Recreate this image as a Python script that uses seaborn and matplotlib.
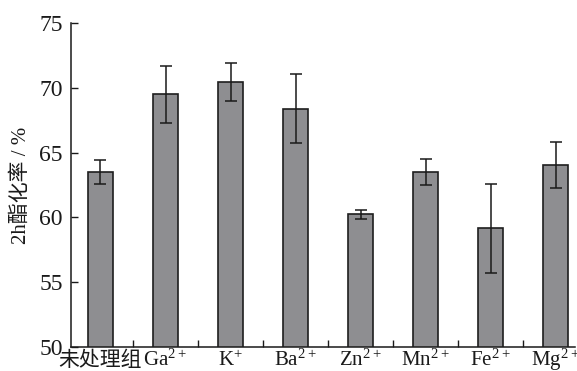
import matplotlib
matplotlib.use("Agg")
import matplotlib.pyplot as plt
import seaborn as sns
import pandas as pd
import numpy as np

# Esterification rate after 2 h for each metal-ion treatment
groups = ["未处理组", "Ga2+", "K+", "Ba2+", "Zn2+", "Mn2+", "Fe2+", "Mg2+"]
tick_labels = ["未处理组",
               r"$\mathregular{Ga^{2+}}$", r"$\mathregular{K^{+}}$",
               r"$\mathregular{Ba^{2+}}$", r"$\mathregular{Zn^{2+}}$",
               r"$\mathregular{Mn^{2+}}$", r"$\mathregular{Fe^{2+}}$",
               r"$\mathregular{Mg^{2+}}$"]
rate = [63.5, 69.5, 70.45, 68.4, 60.25, 63.5, 59.15, 64.05]
err = [0.9, 2.2, 1.5, 2.7, 0.35, 1.0, 3.45, 1.75]
y_ticks = [50, 55, 60, 65, 70, 75]

sns.set_style("ticks")
plt.rcParams["font.family"] = ["Liberation Serif", "Noto Sans CJK SC"]
plt.rcParams["mathtext.fontset"] = "custom"
plt.rcParams["mathtext.rm"] = "Liberation Serif"

df = pd.DataFrame({"group": groups, "rate": rate})

fig = plt.figure(figsize=(5.77, 3.71), dpi=100)
ax = fig.add_axes([0.123, 0.065, 0.874, 0.873])

sns.barplot(data=df, x="group", y="rate", color="#8e8e91", saturation=1,
            width=0.385, edgecolor="#1e1e1e", linewidth=1.2, errorbar=None,
            ax=ax)
ax.errorbar(np.arange(len(groups)), rate, yerr=err, fmt="none",
            ecolor="#1a1a1a", elinewidth=1.1, capsize=4, capthick=1.1)

ax.set_ylim(50, 75)
ax.set_xlim(-0.454, 7.3)
ax.set_yticks(y_ticks)
ax.set_xticks(range(len(groups)))
ax.set_xticklabels(tick_labels)
ax.set_xticks(np.arange(0.5, 7, 1), minor=True)

ax.tick_params(axis="y", direction="in", length=5, width=1, pad=6,
               labelsize=17, colors="#1a1a1a")
ax.tick_params(axis="x", which="major", length=0, pad=13.5, labelsize=15,
               colors="#1a1a1a")
ax.tick_params(axis="x", which="minor", direction="in", length=5, width=1,
               color="#1a1a1a")
# keep all category labels on a common baseline
for lbl in ax.get_xticklabels():
    lbl.set_verticalalignment("baseline")

ax.set_xlabel("")
ax.set_ylabel("2h酯化率 / %", fontsize=15, color="#1a1a1a", labelpad=6)

sns.despine(ax=ax)
for s in ("left", "bottom"):
    ax.spines[s].set_linewidth(1.1)
    ax.spines[s].set_color("#1a1a1a")

fig.savefig("out.png", dpi=100)
